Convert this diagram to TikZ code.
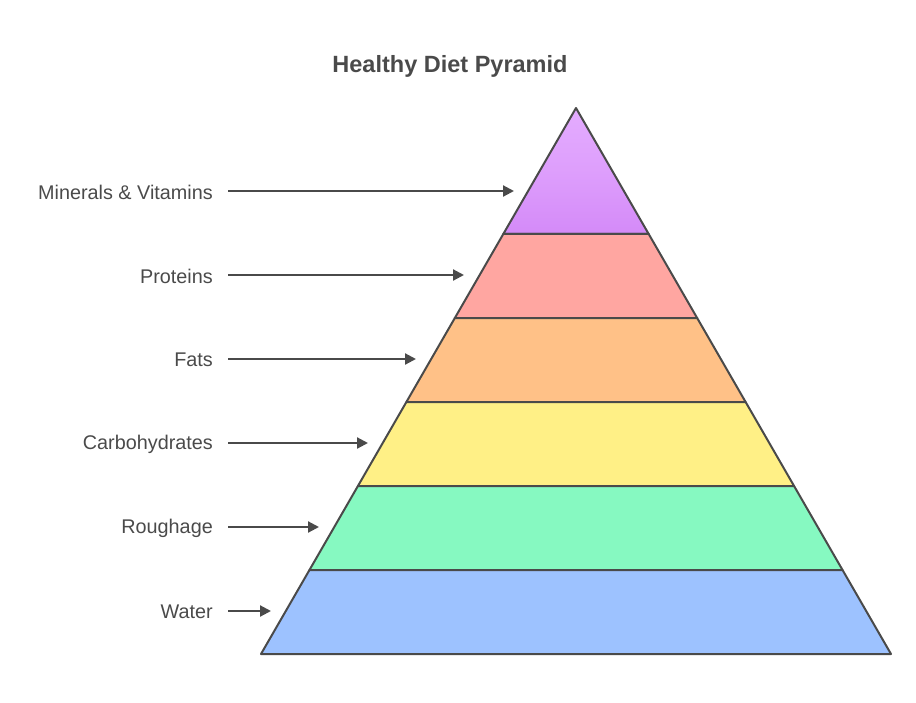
\documentclass[tikz,border=0pt]{standalone}
\usepackage{fontspec}
\setmainfont{Liberation Sans}
\usepackage{tikz}
\usetikzlibrary{calc,arrows.meta}
\definecolor{ink}{HTML}{4A4A4A}
\definecolor{vittop}{HTML}{E4ACFF}
\definecolor{vitbot}{HTML}{D48AF8}
\definecolor{prot}{HTML}{FFA6A1}
\definecolor{fat}{HTML}{FFC187}
\definecolor{carb}{HTML}{FFF086}
\definecolor{rough}{HTML}{86F9C1}
\definecolor{water}{HTML}{9DC2FF}
\tikzset{
  layer/.style={draw=ink, line width=2pt, line join=round},
  pointer/.style={draw=ink, line width=2.2pt, -{Triangle[length=11pt,width=11pt]}},
  lab/.style={text=ink, font=\fontsize{19.8}{22}\selectfont, anchor=east, inner sep=0pt},
  ttl/.style={text=ink, font=\fontsize{23.5}{26}\selectfont\bfseries, inner sep=0pt}
}

\begin{document}
\begin{tikzpicture}[x=1pt, y=-1pt]
  \useasboundingbox (0,0) rectangle (916,702);

  \coordinate (A) at (576,108);
  \coordinate (BL) at (261,654);
  \coordinate (BR) at (891,654);

  % layer boundaries, top to bottom
  \foreach \k/\f in {1/1.5, 2/2.5, 3/3.5, 4/4.5, 5/5.5}{
    \coordinate (L\k) at ($(A)!\f/6.5!(BL)$);
    \coordinate (R\k) at ($(A)!\f/6.5!(BR)$);
  }

  \draw[layer, top color=vittop, bottom color=vitbot, middle color=vittop!60!vitbot] (A) -- (R1) -- (L1) -- cycle;
  \draw[layer, fill=prot] (L1) -- (R1) -- (R2) -- (L2) -- cycle;
  \draw[layer, fill=fat] (L2) -- (R2) -- (R3) -- (L3) -- cycle;
  \draw[layer, fill=carb] (L3) -- (R3) -- (R4) -- (L4) -- cycle;
  \draw[layer, fill=rough] (L4) -- (R4) -- (R5) -- (L5) -- cycle;
  \draw[layer, fill=water] (L5) -- (R5) -- (BR) -- (BL) -- cycle;

  \node[ttl] (title) at (450,66) {Healthy Diet Pyramid};

  \node[lab] (vit) at (213,192) {Minerals \& Vitamins};
  \node[lab] (pro) at (213,276) {Proteins};
  \node[lab] (fats) at (213,360) {Fats};
  \node[lab] (carbs) at (213,444) {Carbohydrates};
  \node[lab] (rgh) at (213,528) {Roughage};
  \node[lab] (wat) at (213,612) {Water};

  \coordinate (vitend) at (514,191);
  \coordinate (proend) at (464,275);
  \coordinate (fatsend) at (416,359);
  \coordinate (carbsend) at (368,443);
  \coordinate (rghend) at (319,527);
  \coordinate (watend) at (271,611);

  \foreach \n in {vit,pro,fats,carbs,rgh,wat}
    \draw[pointer] ([xshift=15pt]\n.east |- \n end) -- (\n end);
\end{tikzpicture}
\end{document}
